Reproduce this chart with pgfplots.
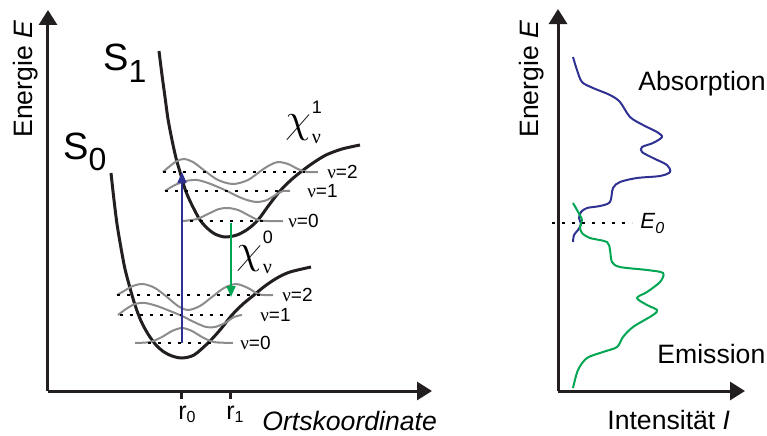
\documentclass[border=0pt]{standalone}
\usepackage{pgfplots}
\pgfplotsset{compat=1.18}
\usetikzlibrary{arrows.meta}
\usepackage{fontspec}
\setmainfont{Liberation Sans}
\newfontfamily\grk{Liberation Serif}

\definecolor{curve}{HTML}{231F20}
\definecolor{wave}{HTML}{8C8C8C}
\definecolor{absblue}{HTML}{2E3192}
\definecolor{emgreen}{HTML}{00A651}

\newcommand{\fs}[1]{\fontsize{#1}{#1}\selectfont}
% wave function symbol chi with stacked level index (superscript) and nu (subscript)
\newcommand{\wfn}[1]{\fs{20}$\chi$\kern0.5pt\rlap{\raisebox{10pt}{\fs{9}#1}}\raisebox{-5pt}{\fs{10}\grk ν}}

\pgfplotsset{
  diagram/.style={
    x=0.5pt, y=0.5pt,
    axis lines=left,
    axis line style={line width=1.5pt, color=curve, -{Triangle[width=9pt,length=7.5pt]}},
    ytick=\empty,
    clip=false,
    anchor=south west,
  },
  pot/.style={curve, line width=1.5pt, smooth, no markers},
  wf/.style={wave, line width=1pt, smooth, no markers},
  lvl/.style={black, line width=1.3pt, dash pattern=on 1.3pt off 3.7pt, no markers},
}

\begin{document}
\begin{tikzpicture}
\useasboundingbox (0,0) rectangle (383.5pt,217.5pt);

% ---------- potential curves ----------
\begin{axis}[diagram, at={(24pt,22pt)},
  xmin=48, xmax=432, ymin=44, ymax=425,
  xtick={182,230},
  xticklabels={r\raisebox{-1.5pt}{\fs{8}0}, r\raisebox{-1.5pt}{\fs{8}1}},
  xticklabel style={font=\fs{12.5}, inner sep=0pt, xshift=2.5pt, yshift=-3.5pt},
  tick align=outside, major tick length=4pt,
  tick style={line width=1.5pt, color=curve},
]
% excited state S1
\addplot[pot] coordinates {(159,384) (162,360) (165,338) (168,316) (172,295) (176,277) (180,263) (185,246) (190,234) (195,224) (200,215) (207,207) (215,201) (225,198) (237,200) (248,206) (258,215) (269,230) (280,244) (291,255) (302,264) (313,272) (326,280) (342,286) (360,290)};
% ground state S0
\addplot[pot] coordinates {(111,262) (114,235) (117,211) (121,187) (125,166) (130,147) (135,130) (141,114) (148,101) (156,90) (164,83) (172,79) (182,77) (194,80) (208,92) (220,105) (232,120) (243,131) (254,140) (265,149) (277,157) (290,163) (311,168)};

% vibrational wave functions in S1
\addplot[wf] coordinates {(163,263) (170,269) (177,274) (184,276) (193,273) (205,264) (218,255) (233,251) (248,255) (262,265) (270,270) (278,273) (288,271) (298,266) (307,263) (318,263)};
\addplot[wf] coordinates {(165,244) (175,250) (186,254) (197,255) (208,252) (218,248) (227,244) (237,239) (247,235) (257,233) (267,235) (277,241) (283,244) (290,244)};
\addplot[wf] coordinates {(183,214) (197,216) (210,222) (219,226) (228,227) (238,225) (248,220) (258,215) (268,214) (283,214)};
% vibrational wave functions in S0
\addplot[wf] coordinates {(117,140) (124,144) (133,149) (143,151) (155,147) (167,138) (178,129) (188,125) (200,129) (212,138) (224,147) (236,151) (248,147) (258,141) (265,140) (273,140)};
\addplot[wf] coordinates {(118,120) (126,126) (135,131) (145,132) (157,129) (170,124) (182,119) (194,113) (206,108) (215,108) (225,112) (234,118) (242,120)};
\addplot[wf] coordinates {(135,92) (150,93) (162,98) (172,104) (182,107) (192,104) (202,98) (214,93) (233,92)};

% vibrational levels
\addplot[lvl] coordinates {(163,263) (305,263)};
\addplot[lvl] coordinates {(165,244) (282,244)};
\addplot[lvl] coordinates {(190,214) (263,214)};
\addplot[lvl] coordinates {(117,140) (262,140)};
\addplot[lvl] coordinates {(120,120) (228,120)};
\addplot[lvl] coordinates {(148,92) (218,92)};

% absorption and emission transitions
\addplot[absblue, line width=0.8pt, -{Triangle[width=4.5pt,length=5.5pt]}] coordinates {(182,92) (182,263)};
\addplot[emgreen, line width=1pt, -{Triangle[width=4.5pt,length=5.5pt]}] coordinates {(231,212) (231,138)};

% labels
\node[rotate=90, anchor=base west, inner sep=0pt, font=\fs{13.3}] at (axis cs:33,297) {Energie \textit{E}};
\node[anchor=base west, inner sep=0pt, font=\fs{13.3}] at (axis cs:262,5) {\textit{Ortskoordinate}};
\node[anchor=base west, inner sep=0pt, font=\fs{19}] at (axis cs:103,365) {S\raisebox{-6pt}{\fs{16}1}};
\node[anchor=base west, inner sep=0pt, font=\fs{19}] at (axis cs:63,276) {S\raisebox{-5.5pt}{\fs{16}0}};
\node[anchor=base west, inner sep=0pt] at (axis cs:285,302) {\wfn{1}};
\node[anchor=base west, inner sep=0pt] at (axis cs:236,172) {\wfn{0}};
\node[anchor=west, inner sep=0pt, font=\fs{9.5}] at (axis cs:327,263) {{\grk ν}=2};
\node[anchor=west, inner sep=0pt, font=\fs{9.5}] at (axis cs:307,244) {{\grk ν}=1};
\node[anchor=west, inner sep=0pt, font=\fs{9.5}] at (axis cs:288,214) {{\grk ν}=0};
\node[anchor=west, inner sep=0pt, font=\fs{9.5}] at (axis cs:282,140) {{\grk ν}=2};
\node[anchor=west, inner sep=0pt, font=\fs{9.5}] at (axis cs:260,120) {{\grk ν}=1};
\node[anchor=west, inner sep=0pt, font=\fs{9.5}] at (axis cs:240,92) {{\grk ν}=0};
\end{axis}

% ---------- spectra ----------
\begin{axis}[diagram, at={(279pt,22pt)},
  xmin=558, xmax=745, ymin=44, ymax=426,
  xtick=\empty,
]
% absorption spectrum
\addplot[absblue, line width=1pt, smooth, no markers] coordinates {(573,378) (577,365) (582,353) (593,347) (610,340) (620,333) (630,318) (643,310) (657,303) (662,298) (653,292) (642,288) (642,283) (653,277) (667,270) (670,263) (660,259) (637,257) (620,253) (613,247) (610,233) (600,229) (587,227) (581,223) (579,217) (581,211) (578,205) (574,200) (573,193)};
% emission spectrum
\addplot[emgreen, line width=1pt, smooth, no markers] coordinates {(573,232) (577,225) (582,215) (580,208) (582,202) (590,197) (607,193) (610,185) (612,173) (620,168) (647,165) (663,162) (660,153) (647,143) (637,137) (647,130) (657,125) (653,120) (633,108) (623,98) (617,88) (603,83) (587,77) (578,65) (573,47)};
% 0-0 transition energy
\addplot[lvl] coordinates {(552,212) (632,212)};

\node[rotate=90, anchor=base west, inner sep=0pt, font=\fs{13.3}] at (axis cs:538,297) {Energie \textit{E}};
\node[anchor=base west, inner sep=0pt, font=\fs{13.3}] at (axis cs:638,345) {Absorption};
\node[anchor=base west, inner sep=0pt, font=\fs{13.3}] at (axis cs:657,72) {Emission};
\node[anchor=base west, inner sep=0pt, font=\fs{13.3}] at (axis cs:607,6) {Intensität \textit{I}};
\node[anchor=base west, inner sep=0pt, font=\fs{11}] at (axis cs:640,207) {\textit{E}\raisebox{-2.5pt}{\fs{8}\textit{0}}};
\end{axis}
\end{tikzpicture}
\end{document}
